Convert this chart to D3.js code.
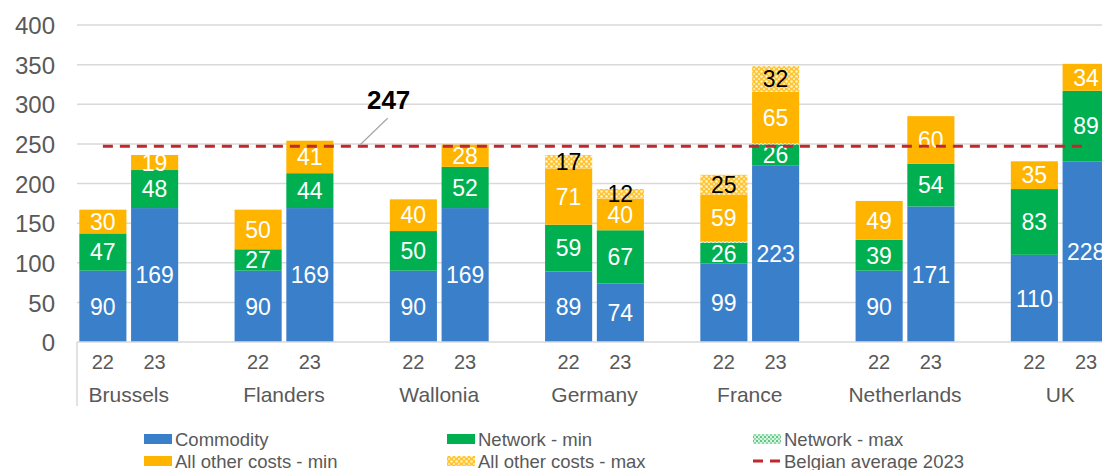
<!DOCTYPE html>
<html>
<head>
<meta charset="utf-8">
<script src="https://cdn.jsdelivr.net/npm/d3@7"></script>
<style>
  html, body { margin: 0; padding: 0; background: #fff; }
  svg { display: block; font-family: "Liberation Sans", Arial, sans-serif; }
</style>
</head>
<body>
<svg id="chart" width="1102" height="470"></svg>
<script>
// ---- data ----
const groups = ["Brussels", "Flanders", "Wallonia", "Germany", "France", "Netherlands", "UK"];
const years = ["22", "23"];
const commodity  = [90, 169, 90, 169, 90, 169, 89, 74, 99, 223, 90, 171, 110, 228];
const networkMin = [47, 48, 27, 44, 50, 52, 59, 67, 26, 26, 39, 54, 83, 89];
const networkMax = [0, 0, 0, 0, 0, 0, 0, 0, 2, 2, 0, 0, 0, 0];
const otherMin   = [30, 19, 50, 41, 40, 28, 71, 40, 59, 65, 49, 60, 35, 34];
const otherMax   = [0, 0, 0, 0, 0, 0, 17, 12, 25, 32, 0, 0, 0, 0];
const belgianAvg = 247;
const yTicks = [0, 50, 100, 150, 200, 250, 300, 350, 400];
const seriesNames = ["Commodity", "Network - min", "Network - max", "All other costs - min", "All other costs - max", "Belgian average 2023"];

// ---- layout ----
const svg = d3.select("#chart");
const COL = { commodity: "#3a7fca", netMin: "#00b050", other: "#ffb400", avg: "#c0282d", grid: "#d9d9d9", text: "#595959" };

const defs = svg.append("defs");
const pNet = defs.append("pattern").attr("id", "netMax").attr("patternUnits", "userSpaceOnUse").attr("width", 4).attr("height", 4);
pNet.append("rect").attr("width", 4).attr("height", 4).attr("fill", "#d9f2df");
pNet.append("circle").attr("cx", 1).attr("cy", 1).attr("r", 1).attr("fill", "#33bb66");
pNet.append("circle").attr("cx", 3).attr("cy", 3).attr("r", 0.8).attr("fill", "#33bb66");
const pOth = defs.append("pattern").attr("id", "othMax").attr("patternUnits", "userSpaceOnUse").attr("width", 5).attr("height", 5);
pOth.append("rect").attr("width", 5).attr("height", 5).attr("fill", "#ffc42e");
pOth.append("circle").attr("cx", 1.5).attr("cy", 1.5).attr("r", 1.3).attr("fill", "#fff3cf");
pOth.append("circle").attr("cx", 4).attr("cy", 4).attr("r", 1).attr("fill", "#fff3cf");

const slots = [];
groups.forEach(g => { years.forEach(yv => slots.push(g + "|" + yv)); slots.push(g + "|gap"); });
const x0 = 77, step = 51.75;
const x = d3.scaleBand().domain(slots).range([x0, x0 + step * slots.length]).paddingInner(0.09).paddingOuter(0.045);
const y = d3.scaleLinear().domain([0, 400]).range([342, 25]);

// gridlines + y labels
const yAxis = d3.axisLeft(y).tickValues(yTicks).tickSize(0).tickPadding(0);
const gy = svg.append("g").attr("transform", "translate(55,0)").call(yAxis);
gy.select(".domain").remove();
gy.selectAll("text").attr("font-size", 24).attr("fill", COL.text).attr("font-family", "Liberation Sans, Arial, sans-serif").attr("dy", "0.36em");

svg.append("g").selectAll("line").data(yTicks.filter(t => t > 0)).join("line")
  .attr("x1", x0).attr("x2", 1102).attr("y1", d => y(d)).attr("y2", d => y(d))
  .attr("stroke", COL.grid).attr("stroke-width", 1.5);

// bars
const rows = [];
groups.forEach((g, gi) => years.forEach((yv, yi) => {
  const i = gi * 2 + yi;
  rows.push({ key: g + "|" + yv, group: g, year: yv,
    vals: [commodity[i], networkMin[i], networkMax[i], otherMin[i], otherMax[i]] });
}));
const fills = [COL.commodity, COL.netMin, "url(#netMax)", COL.other, "url(#othMax)"];
const labelCol = ["#fff", "#fff", null, "#fff", "#000"];
const segs = [];
rows.forEach(r => {
  let acc = 0;
  r.vals.forEach((v, k) => { segs.push({ key: r.key, k, v, y0: acc, y1: acc + v }); acc += v; });
});
const gBars = svg.append("g");
gBars.selectAll("rect").data(segs.filter(s => s.v > 0)).join("rect")
  .attr("x", d => x(d.key)).attr("width", x.bandwidth())
  .attr("y", d => y(d.y1)).attr("height", d => y(d.y0) - y(d.y1))
  .attr("fill", d => fills[d.k]);
gBars.selectAll("text").data(segs.filter(s => s.v > 0 && labelCol[s.k])).join("text")
  .attr("x", d => x(d.key) + x.bandwidth() / 2)
  .attr("y", d => (y(d.y0) + y(d.y1)) / 2)
  .attr("dy", "0.36em").attr("text-anchor", "middle")
  .attr("font-size", 23).attr("fill", d => labelCol[d.k])
  .text(d => d.v);

// x axis
svg.append("line").attr("x1", x0).attr("x2", 1102).attr("y1", y(0)).attr("y2", y(0)).attr("stroke", COL.grid).attr("stroke-width", 1.5);
svg.append("line").attr("x1", x0).attr("x2", x0).attr("y1", y(0)).attr("y2", 406).attr("stroke", COL.grid).attr("stroke-width", 1.5);
svg.append("g").selectAll("text").data(rows).join("text")
  .attr("x", d => x(d.key) + x.bandwidth() / 2).attr("y", 369)
  .attr("text-anchor", "middle").attr("font-size", 20).attr("fill", COL.text).text(d => d.year);
svg.append("g").selectAll("text").data(groups).join("text")
  .attr("x", g => (x(g + "|22") + x(g + "|23") + x.bandwidth()) / 2).attr("y", 402)
  .attr("text-anchor", "middle").attr("font-size", 21).attr("fill", COL.text).text(g => g);

// Belgian average line
const first = rows[0].key, last = rows[rows.length - 1].key;
svg.append("line")
  .attr("x1", x(first) + x.bandwidth() / 2).attr("x2", x(last) + x.bandwidth() / 2 + 3)
  .attr("y1", y(belgianAvg)).attr("y2", y(belgianAvg))
  .attr("stroke", COL.avg).attr("stroke-width", 3).attr("stroke-dasharray", "10,7");
const annX = (x("Flanders|gap") + x.bandwidth() / 2);
svg.append("line").attr("x1", annX - 2).attr("y1", y(belgianAvg) - 1).attr("x2", annX + 26).attr("y2", y(belgianAvg) - 28)
  .attr("stroke", "#a6a6a6").attr("stroke-width", 1.2);
svg.append("text").attr("x", annX + 27).attr("y", 109).attr("text-anchor", "middle")
  .attr("font-size", 26).attr("font-weight", "bold").attr("fill", "#000").text(belgianAvg);

// legend
const legend = [
  { name: seriesNames[0], fill: COL.commodity, lx: 144, ly: 434 },
  { name: seriesNames[1], fill: COL.netMin, lx: 447, ly: 434 },
  { name: seriesNames[2], fill: "url(#netMax)", lx: 753, ly: 434 },
  { name: seriesNames[3], fill: COL.other, lx: 144, ly: 456 },
  { name: seriesNames[4], fill: "url(#othMax)", lx: 447, ly: 456 },
  { name: seriesNames[5], dash: true, lx: 753, ly: 456 }
];
const gl = svg.append("g");
legend.forEach(l => {
  if (l.dash) {
    gl.append("line").attr("x1", l.lx).attr("x2", l.lx + 28).attr("y1", l.ly + 5).attr("y2", l.ly + 5)
      .attr("stroke", COL.avg).attr("stroke-width", 3).attr("stroke-dasharray", "10,7");
  } else {
    gl.append("rect").attr("x", l.lx).attr("y", l.ly).attr("width", 28).attr("height", 10).attr("fill", l.fill);
  }
  gl.append("text").attr("x", l.lx + 31).attr("y", l.ly + 12).attr("font-size", 18.5).attr("fill", COL.text).text(l.name);
});
</script>
</body>
</html>
